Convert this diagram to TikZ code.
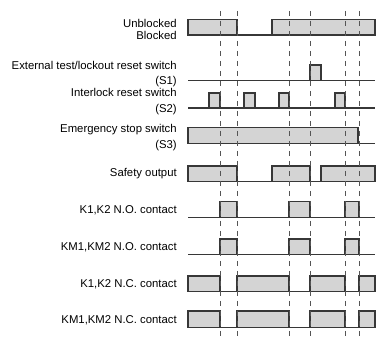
\documentclass[tikz,border=0pt]{standalone}
\usepackage{fontspec}
\setmainfont{Liberation Sans}
\usetikzlibrary{positioning}
\definecolor{cWave}{RGB}{55,55,55}
\definecolor{cFill}{RGB}{212,212,212}
\definecolor{cDash}{RGB}{85,85,85}
\tikzset{
    siglabel/.style={anchor=east, align=right, inner sep=0pt, font=\fontsize{8.5}{11.5}\selectfont},
    baseline/.style={draw=cWave, line width=0.8pt},
    pulse/.style={draw=cWave, fill=cFill, line width=0.8pt},
    timeline/.style={draw=cDash, line width=0.7pt, dash pattern=on 3.75pt off 3.75pt},
}

\begin{document}
\begin{tikzpicture}[x=0.75pt, y=-0.75pt]
        \useasboundingbox (0,0) rectangle (376,338);
        % labels
        \node[siglabel, font=\fontsize{8.5}{9}\selectfont] (blk) at (177,29) {Unblocked\\ Blocked};
        \node[siglabel] (sone) at (177,74)    {External test/lockout reset switch\\ (S1)};
        \node[siglabel] (stwo) at (177,101.5) {Interlock reset switch\\ (S2)};
        \node[siglabel] (sthr) at (177,137.5) {Emergency stop switch\\ (S3)};
        \node[siglabel] (safe) at (177,174)   {Safety output};
        \node[siglabel] (kno)  at (177,210.5) {K1,K2 N.O. contact};
        \node[siglabel] (kmno) at (177,247.5) {KM1,KM2 N.O. contact};
        \node[siglabel] (knc)  at (177,284)   {K1,K2 N.C. contact};
        \node[siglabel] (kmnc) at (177,320.5) {KM1,KM2 N.C. contact};

        % baselines
        \foreach \y in {35,80.5,108,143.5,181.5,217.5,254.5,291.5,327.5}
            \draw[baseline] (188,\y) -- (375,\y);

        % waveforms
        \foreach \a/\b in {188/237, 272/375}
            \draw[pulse] (\a,35) rectangle (\b,19.5);
        \draw[pulse] (310,80.5) rectangle (321,65);
        \foreach \a/\b in {209/220, 244/255, 279/289, 335/345}
            \draw[pulse] (\a,108) rectangle (\b,93);
        \draw[pulse] (188,143.5) rectangle (358,127.5);
        \foreach \a/\b in {188/237, 272/310, 321/375}
            \draw[pulse] (\a,181.5) rectangle (\b,166);
        \foreach \a/\b in {220/237, 289/310, 345/359} {
            \draw[pulse] (\a,217.5) rectangle (\b,201.5);
            \draw[pulse] (\a,254.5) rectangle (\b,239);
        }
        \foreach \a/\b in {188/220, 237/289, 310/345, 359/375} {
            \draw[pulse] (\a,291.5) rectangle (\b,276);
            \draw[pulse] (\a,327.5) rectangle (\b,311);
        }

        % timing lines
        \foreach \t in {220,237,289,310,345,359}
            \draw[timeline] (\t,11) -- (\t,338);
    \end{tikzpicture}
\end{document}
